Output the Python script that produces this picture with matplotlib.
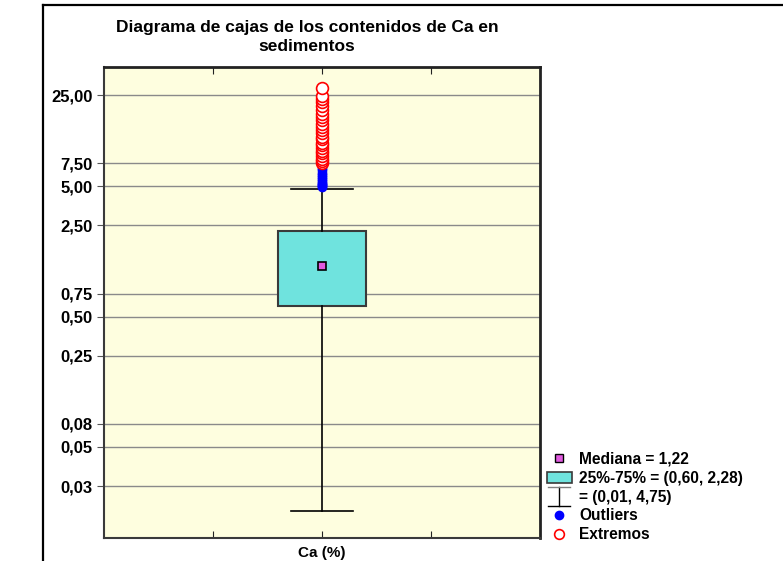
import matplotlib
matplotlib.use("Agg")
import matplotlib.pyplot as plt
from matplotlib.lines import Line2D
from matplotlib.patches import Patch
from matplotlib.legend_handler import HandlerBase

plt.rcParams['font.family'] = ['Liberation Sans', 'DejaVu Sans']
plt.rcParams['font.weight'] = 'bold'

# datos
mediana = 1.22
q1, q3 = 0.60, 2.28
bigote_min, bigote_max = 0.016, 4.75
outliers = [4.9, 5.0, 5.1, 5.2, 5.3, 5.5, 5.7, 5.9, 6.1, 6.3, 6.6, 6.9]
extremos = [7.5, 7.8, 8.1, 8.5, 8.9, 9.3, 9.8, 10.3, 10.8, 11.4, 12.0, 12.7,
            13.4, 14.2, 15.0, 16.0, 17.0, 18.0, 19.2, 20.5, 22.0, 23.5, 24.5, 28.5]
y_ticks = [25, 7.5, 5, 2.5, 0.75, 0.5, 0.25, 0.075, 0.05, 0.025]
y_labels = ["25,00", "7,50", "5,00", "2,50", "0,75", "0,50", "0,25", "0,08", "0,05", "0,03"]


class WhiskerHandler(HandlerBase):
    def create_artists(self, legend, orig_handle, xdescent, ydescent,
                       width, height, fontsize, trans):
        cx = width / 2 - xdescent
        y0 = -ydescent - 3
        y1 = height - ydescent + 3
        w = width * 0.45
        arts = [Line2D([cx, cx], [y0, y1], color='black', lw=1),
                Line2D([cx - w, cx + w], [y0, y0], color='black', lw=1),
                Line2D([cx - w, cx + w], [y1, y1], color='#808080', lw=1)]
        for a in arts:
            a.set_transform(trans)
        return arts


fig = plt.figure(figsize=(7.83, 5.61), dpi=100)
ax = fig.add_axes([104 / 783, 1 - 538 / 561, 436 / 783, 471 / 561])
ax.set_facecolor('#FEFEDF')

ax.set_yscale('log')
ax.set_ylim(0.01, 41)
ax.set_xlim(0, 1)

stats = [dict(med=mediana, q1=q1, q3=q3, whislo=bigote_min, whishi=bigote_max, fliers=[])]
ax.bxp(stats, positions=[0.5], widths=0.2, capwidths=0.14, patch_artist=True,
       showfliers=False,
       boxprops=dict(facecolor='#6FE3DE', edgecolor='#3A3A3A', lw=1.5),
       whiskerprops=dict(color='black', lw=1.2),
       capprops=dict(color='black', lw=1.2),
       medianprops=dict(visible=False), zorder=3)

ax.plot([0.5], [mediana], 's', ms=6, mfc='#E05ADF', mec='black', mew=1.2, zorder=5)
ax.plot([0.5] * len(outliers), outliers, 'o', ms=6, color='#0000FF', zorder=4)
ax.plot([0.5] * len(extremos), extremos, 'o', ms=8.5, mfc='white', mec='#FF0000',
        mew=1.2, zorder=4)

ax.set_yticks(y_ticks)
ax.set_yticklabels(y_labels)
ax.yaxis.set_minor_locator(plt.NullLocator())
ax.grid(axis='y', color='#8A8A8A', lw=1)
ax.set_axisbelow(True)
ax.tick_params(axis='y', direction='out', length=5, color='#555555',
               labelsize=12, pad=3)
for lab in ax.get_yticklabels():
    lab.set_fontweight('bold')

ax.set_xticks([0.25, 0.5, 0.75])
ax.set_xticklabels([])
ax.tick_params(axis='x', direction='in', length=5, top=True, color='#222222')

for s in ax.spines.values():
    s.set_color('#3A3A3A')
    s.set_linewidth(1.5)
ax.spines['top'].set_color('#222222')
ax.spines['right'].set_color('#222222')
ax.spines['top'].set_linewidth(2)
ax.spines['right'].set_linewidth(2)

fig.text(307 / 783, 1 - 37 / 561, "Diagrama de cajas de los contenidos de Ca en\nsedimentos",
         ha='center', va='center', fontsize=12.5, fontweight='bold', linespacing=1.4)
fig.text(322 / 783, 1 - 553 / 561, "Ca (%)", ha='center', va='center',
         fontsize=11, fontweight='bold')

# marco exterior
fig.add_artist(Line2D([43 / 783, 1.0], [1 - 5 / 561, 1 - 5 / 561], color='black', lw=1.6))
fig.add_artist(Line2D([43 / 783, 43 / 783], [0, 1 - 5 / 561], color='black', lw=1.6))

handles = [
    Line2D([], [], marker='s', ls='', ms=6, mfc='#E05ADF', mec='black', mew=1),
    Patch(facecolor='#6FE3DE', edgecolor='#3A3A3A', lw=1.2),
    'whisker',
    Line2D([], [], marker='o', ls='', ms=6, color='#0000FF'),
    Line2D([], [], marker='o', ls='', ms=7, mfc='white', mec='#FF0000', mew=1.2),
]
labels = ["Mediana = 1,22", "25%-75% = (0,60, 2,28)", "= (0,01, 4,75)",
          "Outliers", "Extremos"]
leg = fig.legend(handles, labels, loc='upper left',
                 bbox_to_anchor=(539 / 783, 1 - 444 / 561), frameon=False,
                 prop=dict(size=11.2, weight='bold'), handlelength=1.6,
                 handletextpad=0.5, labelspacing=0.25, borderpad=0,
                 handler_map={str: WhiskerHandler()})

fig.savefig("out.png", dpi=100)
